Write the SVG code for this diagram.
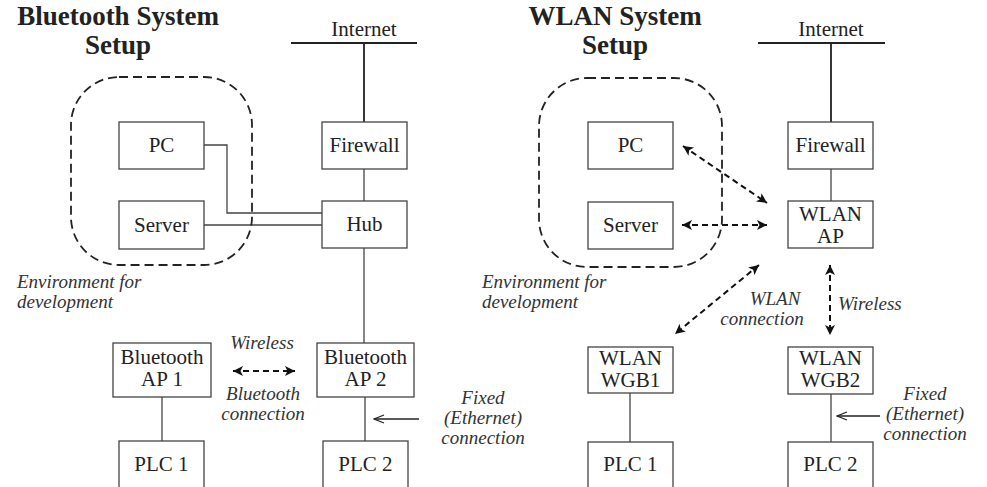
<svg xmlns="http://www.w3.org/2000/svg" width="987" height="487" viewBox="0 0 987 487">
<style>
  .bg { fill: #ffffff; }
  .box { fill: #ffffff; stroke: #444; stroke-width: 1.3; }
  .env { fill: none; stroke: #222; stroke-width: 1.8; stroke-dasharray: 9 5; }
  .net { fill: none; stroke: #222; stroke-width: 1.8; }
  .wire { fill: none; stroke: #444; stroke-width: 1.3; }
  .wl { fill: none; stroke: #111; stroke-width: 2; stroke-dasharray: 6 4; }
  .fx { fill: none; stroke: #222; stroke-width: 1.3; }
  text { font-family: 'Liberation Serif', serif; }
  .t { font-size: 21px; fill: #222; text-anchor: middle; }
  .title { font-size: 27px; font-weight: bold; fill: #222; text-anchor: middle; }
  .it { font-size: 19px; font-style: italic; fill: #333; text-anchor: middle; }
  .st { text-anchor: start; }
</style>
<defs>
  <marker id="ah" viewBox="0 0 10 10" refX="10" refY="5" markerWidth="11" markerHeight="10" markerUnits="userSpaceOnUse" orient="auto-start-reverse">
    <path d="M0,0 L10,5 L0,10 L2.5,5 Z" fill="#111" stroke="none"/>
  </marker>
  <marker id="oh" viewBox="0 0 12 10" refX="11" refY="5" markerWidth="12" markerHeight="10" markerUnits="userSpaceOnUse" orient="auto">
    <path d="M1,1 L11,5 L1,9" fill="none" stroke="#222" stroke-width="1.3"/>
  </marker>
</defs>
<rect class="bg" x="0" y="0" width="987" height="487"/>

<!-- Titles -->
<g id="title-bt">
  <text class="title" x="118" y="25">Bluetooth System</text>
  <text class="title" x="118" y="54">Setup</text>
</g>
<g id="title-wlan">
  <text class="title" x="615" y="25">WLAN System</text>
  <text class="title" x="615" y="54">Setup</text>
</g>

<!-- Connectors -->
<g id="connectors">
  <line class="net" x1="291" y1="43" x2="417" y2="43"/>
  <line class="net" x1="364" y1="43" x2="364" y2="122"/>
  <line class="wire" x1="364" y1="169" x2="364" y2="201"/>
  <line class="wire" x1="364" y1="248" x2="364" y2="343"/>
  <line class="wire" x1="365" y1="397" x2="365" y2="441"/>
  <line class="wire" x1="162" y1="397" x2="162" y2="441"/>
  <path class="wire" d="M204,145 H227 V213 H322"/>
  <line class="wire" x1="204" y1="225" x2="322" y2="225"/>
  <line class="wl" x1="233" y1="371" x2="295" y2="371" marker-start="url(#ah)" marker-end="url(#ah)"/>
  <line class="fx" x1="419" y1="419" x2="374" y2="419" marker-end="url(#oh)"/>

  <line class="net" x1="758" y1="43" x2="885" y2="43"/>
  <line class="net" x1="831" y1="43" x2="831" y2="122"/>
  <line class="wire" x1="831" y1="169" x2="831" y2="201"/>
  <line class="wire" x1="630" y1="393" x2="630" y2="442"/>
  <line class="wire" x1="831" y1="394" x2="831" y2="442"/>
  <line class="wl" x1="683" y1="146" x2="767" y2="203" marker-start="url(#ah)" marker-end="url(#ah)"/>
  <line class="wl" x1="682" y1="225" x2="767" y2="225" marker-start="url(#ah)" marker-end="url(#ah)"/>
  <line class="wl" x1="759" y1="265" x2="675" y2="334" marker-start="url(#ah)" marker-end="url(#ah)"/>
  <line class="wl" x1="830" y1="265" x2="830" y2="335" marker-start="url(#ah)" marker-end="url(#ah)"/>
  <line class="fx" x1="880" y1="416" x2="837" y2="416" marker-end="url(#oh)"/>
</g>

<!-- Left panel nodes -->
<g id="bt-env">
  <rect class="env" x="71" y="77" width="181" height="188" rx="48" ry="48"/>
  <text class="it st" x="17" y="288">Environment for</text>
  <text class="it st" x="17" y="308">development</text>
</g>
<g id="bt-internet"><text class="t" x="364" y="36">Internet</text></g>
<g id="bt-pc"><rect class="box" x="119" y="122" width="85" height="47"/><text class="t" x="161.5" y="152">PC</text></g>
<g id="bt-server"><rect class="box" x="119" y="201" width="85" height="48"/><text class="t" x="161.5" y="232">Server</text></g>
<g id="bt-firewall"><rect class="box" x="322" y="122" width="85" height="47"/><text class="t" x="364.5" y="152">Firewall</text></g>
<g id="bt-hub"><rect class="box" x="322" y="201" width="85" height="47"/><text class="t" x="364.5" y="231">Hub</text></g>
<g id="bt-ap1"><rect class="box" x="113" y="343" width="98" height="54"/><text class="t" x="162" y="364">Bluetooth</text><text class="t" x="162" y="386">AP 1</text></g>
<g id="bt-ap2"><rect class="box" x="317" y="343" width="97" height="54"/><text class="t" x="365.5" y="364">Bluetooth</text><text class="t" x="365.5" y="386">AP 2</text></g>
<g id="bt-plc1"><rect class="box" x="119" y="441" width="85" height="50"/><text class="t" x="161.5" y="471">PLC 1</text></g>
<g id="bt-plc2"><rect class="box" x="323" y="441" width="85" height="50"/><text class="t" x="365.5" y="471">PLC 2</text></g>
<g id="bt-labels">
  <text class="it" x="262" y="349">Wireless</text>
  <text class="it" x="263" y="400">Bluetooth</text>
  <text class="it" x="263" y="420">connection</text>
  <text class="it" x="483" y="404">Fixed</text>
  <text class="it" x="483" y="424">(Ethernet)</text>
  <text class="it" x="483" y="444">connection</text>
</g>

<!-- Right panel nodes -->
<g id="wl-env">
  <rect class="env" x="539" y="78" width="183" height="189" rx="48" ry="48"/>
  <text class="it st" x="482" y="288">Environment for</text>
  <text class="it st" x="482" y="308">development</text>
</g>
<g id="wl-internet"><text class="t" x="831" y="36">Internet</text></g>
<g id="wl-pc"><rect class="box" x="588" y="122" width="85" height="47"/><text class="t" x="630.5" y="152">PC</text></g>
<g id="wl-server"><rect class="box" x="588" y="202" width="85" height="47"/><text class="t" x="630.5" y="232">Server</text></g>
<g id="wl-firewall"><rect class="box" x="788" y="122" width="85" height="47"/><text class="t" x="830.5" y="152">Firewall</text></g>
<g id="wl-ap"><rect class="box" x="788" y="201" width="85" height="47"/><text class="t" x="830.5" y="221">WLAN</text><text class="t" x="830.5" y="243">AP</text></g>
<g id="wl-wgb1"><rect class="box" x="588" y="347" width="85" height="46"/><text class="t" x="630.5" y="365">WLAN</text><text class="t" x="630.5" y="387">WGB1</text></g>
<g id="wl-wgb2"><rect class="box" x="788" y="347" width="85" height="47"/><text class="t" x="830.5" y="365">WLAN</text><text class="t" x="830.5" y="387">WGB2</text></g>
<g id="wl-plc1"><rect class="box" x="588" y="442" width="85" height="50"/><text class="t" x="630.5" y="471">PLC 1</text></g>
<g id="wl-plc2"><rect class="box" x="788" y="442" width="85" height="50"/><text class="t" x="830.5" y="471">PLC 2</text></g>
<g id="wl-labels">
  <text class="it" x="775" y="305">WLAN</text>
  <text class="it" x="762" y="325">connection</text>
  <text class="it st" x="838" y="310">Wireless</text>
  <text class="it" x="925" y="400">Fixed</text>
  <text class="it" x="925" y="420">(Ethernet)</text>
  <text class="it" x="925" y="440">connection</text>
</g>
</svg>
